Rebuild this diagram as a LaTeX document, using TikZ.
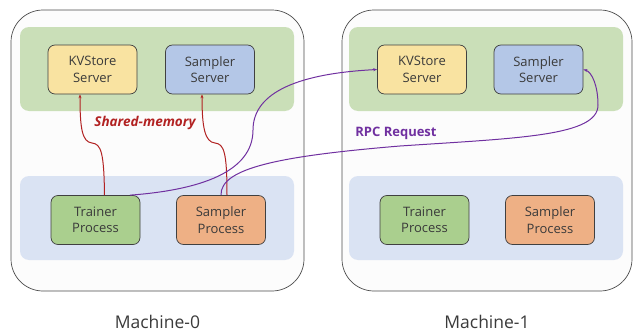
\documentclass[tikz,border=0pt]{standalone}
\usepackage{fontspec}
\setmainfont{Open Sans}
\usetikzlibrary{arrows.meta,calc}
\definecolor{bandgreen}{HTML}{CADFB8}
\definecolor{bandblue}{HTML}{DAE3F3}
\definecolor{kvyellow}{HTML}{F9E3A1}
\definecolor{srvblue}{HTML}{B4C7E7}
\definecolor{trgreen}{HTML}{AACF8E}
\definecolor{sporange}{HTML}{EEB085}
\definecolor{shmred}{HTML}{B22222}
\definecolor{rpcpurple}{HTML}{7030A0}
\definecolor{txtgray}{HTML}{3A3A3A}
\begin{document}
\begin{tikzpicture}[x=1pt, y=-1pt, line join=round,
  machine/.style={draw=black!70, line width=0.7pt, fill=black!1, rounded corners=32pt},
  band/.style={rounded corners=9pt},
  proc/.style={draw=black!75, line width=0.7pt, rounded corners=7pt, minimum width=89pt,
    minimum height=49pt, align=center, font=\fontsize{13}{16.5}\selectfont, text=txtgray, inner sep=0pt},
  shm/.style={draw=shmred, line width=1pt, -{Stealth[length=4pt,width=3pt]}},
  rpc/.style={draw=rpcpurple, line width=1pt, -{Stealth[length=4pt,width=3pt]}},
  mlabel/.style={font=\fontsize{17.5}{20}\selectfont, text=txtgray}]
\useasboundingbox (0,0) rectangle (633,332);
% machines
\draw[machine] (11,10) rectangle (304,291);
\draw[machine] (342,10) rectangle (632,291);
\fill[band, bandgreen] (20,27) rectangle (294,111);
\fill[band, bandblue]  (20,176) rectangle (294,260);
\fill[band, bandgreen] (349,27) rectangle (623,111);
\fill[band, bandblue]  (349,176) rectangle (623,260);
% Machine-0
\node[proc, fill=kvyellow] (kv0) at (92.5,69.5) {KVStore\\Server};
\node[proc, fill=srvblue]  (ss0) at (210,69.5)  {Sampler\\Server};
\node[proc, fill=trgreen]  (tp0) at (95.5,220)  {Trainer\\Process};
\node[proc, fill=sporange] (sp0) at (221,220)   {Sampler\\Process};
\node[mlabel] (m0) at (157.5,322) {Machine-0};
% Machine-1
\node[proc, fill=kvyellow] (kv1) at (422,69.5)  {KVStore\\Server};
\node[proc, fill=srvblue]  (ss1) at (538.5,69.5) {Sampler\\Server};
\node[proc, fill=trgreen]  (tp1) at (424.5,220) {Trainer\\Process};
\node[proc, fill=sporange] (sp1) at (550,220)   {Sampler\\Process};
\node[mlabel] (m1) at (487,322) {Machine-1};
% shared memory
\draw[shm] ([xshift=9pt]tp0.north) .. controls (104,152) and (101,144) .. (92,143)
  .. controls (82,142) and (80,128) .. ([xshift=-12.5pt]kv0.south);
\draw[shm] ([xshift=6pt]sp0.north) .. controls (227,152) and (224,144) .. (215,143)
  .. controls (205,142) and (202,128) .. ([xshift=-8pt]ss0.south);
\node[font=\fontsize{13.5}{16}\selectfont\bfseries\itshape, text=shmred] (shmtxt) at (145,123) {Shared-memory};
% rpc
\draw[rpc] ([xshift=34.5pt]tp0.north) .. controls (200,190) and (253,172) .. (253,130)
  .. controls (253,96) and (290,74) .. (kv1.west);
\draw[rpc] (sp0.north) .. controls (220,168) and (280,156) .. (400,146)
  .. controls (520,138) and (598,136) .. (598,105)
  .. controls (598,86) and (592,72) .. (ss1.east);
\node[font=\fontsize{13}{16}\selectfont\bfseries, text=rpcpurple] (rpctxt) at (396,133) {RPC Request};
\end{tikzpicture}
\end{document}
